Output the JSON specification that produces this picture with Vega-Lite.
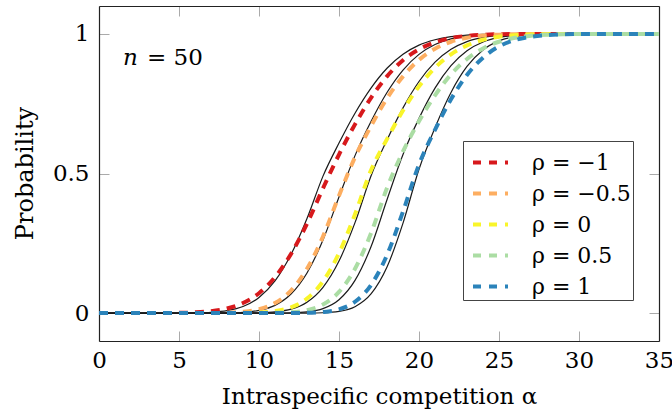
{
  "$schema": "https://vega.github.io/schema/vega-lite/v6.json",
  "width": 560,
  "height": 335,
  "autosize": {"type": "none"},
  "padding": {"left": 99, "top": 6, "right": 13, "bottom": 68},
  "datasets": {
    "dashed": [
      {"alpha": 0, "prob": 0, "rho": "ρ = −1"},
      {"alpha": 4, "prob": 0, "rho": "ρ = −1"},
      {"alpha": 5, "prob": 0.0009, "rho": "ρ = −1"},
      {"alpha": 6, "prob": 0.0026, "rho": "ρ = −1"},
      {"alpha": 7, "prob": 0.0068, "rho": "ρ = −1"},
      {"alpha": 8, "prob": 0.0166, "rho": "ρ = −1"},
      {"alpha": 9, "prob": 0.0359, "rho": "ρ = −1"},
      {"alpha": 10, "prob": 0.0712, "rho": "ρ = −1"},
      {"alpha": 11, "prob": 0.1286, "rho": "ρ = −1"},
      {"alpha": 12, "prob": 0.2119, "rho": "ρ = −1"},
      {"alpha": 13, "prob": 0.3203, "rho": "ρ = −1"},
      {"alpha": 14, "prob": 0.447, "rho": "ρ = −1"},
      {"alpha": 15, "prob": 0.568, "rho": "ρ = −1"},
      {"alpha": 16, "prob": 0.676, "rho": "ρ = −1"},
      {"alpha": 17, "prob": 0.771, "rho": "ρ = −1"},
      {"alpha": 18, "prob": 0.848, "rho": "ρ = −1"},
      {"alpha": 19, "prob": 0.906, "rho": "ρ = −1"},
      {"alpha": 20, "prob": 0.945, "rho": "ρ = −1"},
      {"alpha": 21, "prob": 0.970, "rho": "ρ = −1"},
      {"alpha": 22, "prob": 0.985, "rho": "ρ = −1"},
      {"alpha": 23, "prob": 0.993, "rho": "ρ = −1"},
      {"alpha": 24, "prob": 0.997, "rho": "ρ = −1"},
      {"alpha": 25, "prob": 0.9988, "rho": "ρ = −1"},
      {"alpha": 26, "prob": 0.9995, "rho": "ρ = −1"},
      {"alpha": 27, "prob": 1, "rho": "ρ = −1"},
      {"alpha": 35, "prob": 1, "rho": "ρ = −1"},

      {"alpha": 0, "prob": 0, "rho": "ρ = −0.5"},
      {"alpha": 6, "prob": 0, "rho": "ρ = −0.5"},
      {"alpha": 7, "prob": 0.0003, "rho": "ρ = −0.5"},
      {"alpha": 8, "prob": 0.0013, "rho": "ρ = −0.5"},
      {"alpha": 9, "prob": 0.0047, "rho": "ρ = −0.5"},
      {"alpha": 10, "prob": 0.0139, "rho": "ρ = −0.5"},
      {"alpha": 11, "prob": 0.0359, "rho": "ρ = −0.5"},
      {"alpha": 12, "prob": 0.0808, "rho": "ρ = −0.5"},
      {"alpha": 13, "prob": 0.1587, "rho": "ρ = −0.5"},
      {"alpha": 14, "prob": 0.2743, "rho": "ρ = −0.5"},
      {"alpha": 15, "prob": 0.4207, "rho": "ρ = −0.5"},
      {"alpha": 16, "prob": 0.558, "rho": "ρ = −0.5"},
      {"alpha": 17, "prob": 0.670, "rho": "ρ = −0.5"},
      {"alpha": 18, "prob": 0.769, "rho": "ρ = −0.5"},
      {"alpha": 19, "prob": 0.848, "rho": "ρ = −0.5"},
      {"alpha": 20, "prob": 0.907, "rho": "ρ = −0.5"},
      {"alpha": 21, "prob": 0.947, "rho": "ρ = −0.5"},
      {"alpha": 22, "prob": 0.972, "rho": "ρ = −0.5"},
      {"alpha": 23, "prob": 0.986, "rho": "ρ = −0.5"},
      {"alpha": 24, "prob": 0.994, "rho": "ρ = −0.5"},
      {"alpha": 25, "prob": 0.9974, "rho": "ρ = −0.5"},
      {"alpha": 26, "prob": 0.999, "rho": "ρ = −0.5"},
      {"alpha": 27, "prob": 1, "rho": "ρ = −0.5"},
      {"alpha": 35, "prob": 1, "rho": "ρ = −0.5"},

      {"alpha": 0, "prob": 0, "rho": "ρ = 0"},
      {"alpha": 7, "prob": 0, "rho": "ρ = 0"},
      {"alpha": 8, "prob": 0.0001, "rho": "ρ = 0"},
      {"alpha": 9, "prob": 0.0005, "rho": "ρ = 0"},
      {"alpha": 10, "prob": 0.002, "rho": "ρ = 0"},
      {"alpha": 11, "prob": 0.007, "rho": "ρ = 0"},
      {"alpha": 12, "prob": 0.0206, "rho": "ρ = 0"},
      {"alpha": 13, "prob": 0.0521, "rho": "ρ = 0"},
      {"alpha": 14, "prob": 0.1135, "rho": "ρ = 0"},
      {"alpha": 15, "prob": 0.2142, "rho": "ρ = 0"},
      {"alpha": 16, "prob": 0.3538, "rho": "ρ = 0"},
      {"alpha": 17, "prob": 0.5114, "rho": "ρ = 0"},
      {"alpha": 18, "prob": 0.623, "rho": "ρ = 0"},
      {"alpha": 19, "prob": 0.7257, "rho": "ρ = 0"},
      {"alpha": 20, "prob": 0.812, "rho": "ρ = 0"},
      {"alpha": 21, "prob": 0.879, "rho": "ρ = 0"},
      {"alpha": 22, "prob": 0.927, "rho": "ρ = 0"},
      {"alpha": 23, "prob": 0.959, "rho": "ρ = 0"},
      {"alpha": 24, "prob": 0.979, "rho": "ρ = 0"},
      {"alpha": 25, "prob": 0.990, "rho": "ρ = 0"},
      {"alpha": 26, "prob": 0.9953, "rho": "ρ = 0"},
      {"alpha": 27, "prob": 0.998, "rho": "ρ = 0"},
      {"alpha": 28, "prob": 0.9992, "rho": "ρ = 0"},
      {"alpha": 29, "prob": 1, "rho": "ρ = 0"},
      {"alpha": 35, "prob": 1, "rho": "ρ = 0"},

      {"alpha": 0, "prob": 0, "rho": "ρ = 0.5"},
      {"alpha": 9, "prob": 0, "rho": "ρ = 0.5"},
      {"alpha": 10, "prob": 0.0002, "rho": "ρ = 0.5"},
      {"alpha": 11, "prob": 0.0008, "rho": "ρ = 0.5"},
      {"alpha": 12, "prob": 0.0031, "rho": "ρ = 0.5"},
      {"alpha": 13, "prob": 0.0107, "rho": "ρ = 0.5"},
      {"alpha": 14, "prob": 0.0307, "rho": "ρ = 0.5"},
      {"alpha": 15, "prob": 0.0757, "rho": "ρ = 0.5"},
      {"alpha": 16, "prob": 0.1587, "rho": "ρ = 0.5"},
      {"alpha": 17, "prob": 0.286, "rho": "ρ = 0.5"},
      {"alpha": 18, "prob": 0.448, "rho": "ρ = 0.5"},
      {"alpha": 19, "prob": 0.579, "rho": "ρ = 0.5"},
      {"alpha": 20, "prob": 0.687, "rho": "ρ = 0.5"},
      {"alpha": 21, "prob": 0.780, "rho": "ρ = 0.5"},
      {"alpha": 22, "prob": 0.855, "rho": "ρ = 0.5"},
      {"alpha": 23, "prob": 0.910, "rho": "ρ = 0.5"},
      {"alpha": 24, "prob": 0.948, "rho": "ρ = 0.5"},
      {"alpha": 25, "prob": 0.972, "rho": "ρ = 0.5"},
      {"alpha": 26, "prob": 0.986, "rho": "ρ = 0.5"},
      {"alpha": 27, "prob": 0.9935, "rho": "ρ = 0.5"},
      {"alpha": 28, "prob": 0.997, "rho": "ρ = 0.5"},
      {"alpha": 29, "prob": 0.9989, "rho": "ρ = 0.5"},
      {"alpha": 30, "prob": 1, "rho": "ρ = 0.5"},
      {"alpha": 35, "prob": 1, "rho": "ρ = 0.5"},

      {"alpha": 0, "prob": 0, "rho": "ρ = 1"},
      {"alpha": 11, "prob": 0, "rho": "ρ = 1"},
      {"alpha": 12, "prob": 0.0002, "rho": "ρ = 1"},
      {"alpha": 13, "prob": 0.0008, "rho": "ρ = 1"},
      {"alpha": 14, "prob": 0.0038, "rho": "ρ = 1"},
      {"alpha": 15, "prob": 0.0136, "rho": "ρ = 1"},
      {"alpha": 16, "prob": 0.0406, "rho": "ρ = 1"},
      {"alpha": 17, "prob": 0.1004, "rho": "ρ = 1"},
      {"alpha": 18, "prob": 0.2078, "rho": "ρ = 1"},
      {"alpha": 19, "prob": 0.3636, "rho": "ρ = 1"},
      {"alpha": 20, "prob": 0.532, "rho": "ρ = 1"},
      {"alpha": 21, "prob": 0.6566, "rho": "ρ = 1"},
      {"alpha": 22, "prob": 0.766, "rho": "ρ = 1"},
      {"alpha": 23, "prob": 0.853, "rho": "ρ = 1"},
      {"alpha": 24, "prob": 0.915, "rho": "ρ = 1"},
      {"alpha": 25, "prob": 0.955, "rho": "ρ = 1"},
      {"alpha": 26, "prob": 0.978, "rho": "ρ = 1"},
      {"alpha": 27, "prob": 0.990, "rho": "ρ = 1"},
      {"alpha": 28, "prob": 0.996, "rho": "ρ = 1"},
      {"alpha": 29, "prob": 0.9986, "rho": "ρ = 1"},
      {"alpha": 30, "prob": 1, "rho": "ρ = 1"},
      {"alpha": 35, "prob": 1, "rho": "ρ = 1"}
    ],
    "solid": [
      {"alpha": 0, "prob": 0, "curve": "a"},
      {"alpha": 4, "prob": 0, "curve": "a"},
      {"alpha": 5, "prob": 0.0002, "curve": "a"},
      {"alpha": 6, "prob": 0.0008, "curve": "a"},
      {"alpha": 7, "prob": 0.0028, "curve": "a"},
      {"alpha": 8, "prob": 0.0088, "curve": "a"},
      {"alpha": 9, "prob": 0.0236, "curve": "a"},
      {"alpha": 10, "prob": 0.0557, "curve": "a"},
      {"alpha": 11, "prob": 0.1151, "curve": "a"},
      {"alpha": 12, "prob": 0.2096, "curve": "a"},
      {"alpha": 13, "prob": 0.3387, "curve": "a"},
      {"alpha": 14, "prob": 0.4906, "curve": "a"},
      {"alpha": 15, "prob": 0.609, "curve": "a"},
      {"alpha": 16, "prob": 0.716, "curve": "a"},
      {"alpha": 17, "prob": 0.806, "curve": "a"},
      {"alpha": 18, "prob": 0.877, "curve": "a"},
      {"alpha": 19, "prob": 0.927, "curve": "a"},
      {"alpha": 20, "prob": 0.960, "curve": "a"},
      {"alpha": 21, "prob": 0.979, "curve": "a"},
      {"alpha": 22, "prob": 0.990, "curve": "a"},
      {"alpha": 23, "prob": 0.9957, "curve": "a"},
      {"alpha": 24, "prob": 0.9983, "curve": "a"},
      {"alpha": 25, "prob": 0.9994, "curve": "a"},
      {"alpha": 26, "prob": 1, "curve": "a"},
      {"alpha": 35, "prob": 1, "curve": "a"},

      {"alpha": 0, "prob": 0, "curve": "b"},
      {"alpha": 6, "prob": 0, "curve": "b"},
      {"alpha": 7, "prob": 0.0001, "curve": "b"},
      {"alpha": 8, "prob": 0.0007, "curve": "b"},
      {"alpha": 9, "prob": 0.0028, "curve": "b"},
      {"alpha": 10, "prob": 0.0096, "curve": "b"},
      {"alpha": 11, "prob": 0.0277, "curve": "b"},
      {"alpha": 12, "prob": 0.0682, "curve": "b"},
      {"alpha": 13, "prob": 0.1437, "curve": "b"},
      {"alpha": 14, "prob": 0.2617, "curve": "b"},
      {"alpha": 15, "prob": 0.4157, "curve": "b"},
      {"alpha": 16, "prob": 0.564, "curve": "b"},
      {"alpha": 17, "prob": 0.686, "curve": "b"},
      {"alpha": 18, "prob": 0.790, "curve": "b"},
      {"alpha": 19, "prob": 0.8705, "curve": "b"},
      {"alpha": 20, "prob": 0.9267, "curve": "b"},
      {"alpha": 21, "prob": 0.962, "curve": "b"},
      {"alpha": 22, "prob": 0.982, "curve": "b"},
      {"alpha": 23, "prob": 0.9922, "curve": "b"},
      {"alpha": 24, "prob": 0.997, "curve": "b"},
      {"alpha": 25, "prob": 0.9989, "curve": "b"},
      {"alpha": 26, "prob": 1, "curve": "b"},
      {"alpha": 35, "prob": 1, "curve": "b"},

      {"alpha": 0, "prob": 0, "curve": "c"},
      {"alpha": 8, "prob": 0, "curve": "c"},
      {"alpha": 9, "prob": 0.0002, "curve": "c"},
      {"alpha": 10, "prob": 0.0011, "curve": "c"},
      {"alpha": 11, "prob": 0.0043, "curve": "c"},
      {"alpha": 12, "prob": 0.014, "curve": "c"},
      {"alpha": 13, "prob": 0.0391, "curve": "c"},
      {"alpha": 14, "prob": 0.0924, "curve": "c"},
      {"alpha": 15, "prob": 0.1864, "curve": "c"},
      {"alpha": 16, "prob": 0.3239, "curve": "c"},
      {"alpha": 17, "prob": 0.4913, "curve": "c"},
      {"alpha": 18, "prob": 0.620, "curve": "c"},
      {"alpha": 19, "prob": 0.735, "curve": "c"},
      {"alpha": 20, "prob": 0.8295, "curve": "c"},
      {"alpha": 21, "prob": 0.8987, "curve": "c"},
      {"alpha": 22, "prob": 0.9449, "curve": "c"},
      {"alpha": 23, "prob": 0.9725, "curve": "c"},
      {"alpha": 24, "prob": 0.9875, "curve": "c"},
      {"alpha": 25, "prob": 0.9948, "curve": "c"},
      {"alpha": 26, "prob": 0.998, "curve": "c"},
      {"alpha": 27, "prob": 0.9993, "curve": "c"},
      {"alpha": 28, "prob": 1, "curve": "c"},
      {"alpha": 35, "prob": 1, "curve": "c"},

      {"alpha": 0, "prob": 0, "curve": "d"},
      {"alpha": 10, "prob": 0, "curve": "d"},
      {"alpha": 11, "prob": 0.0002, "curve": "d"},
      {"alpha": 12, "prob": 0.001, "curve": "d"},
      {"alpha": 13, "prob": 0.0044, "curve": "d"},
      {"alpha": 14, "prob": 0.016, "curve": "d"},
      {"alpha": 15, "prob": 0.0478, "curve": "d"},
      {"alpha": 16, "prob": 0.117, "curve": "d"},
      {"alpha": 17, "prob": 0.2376, "curve": "d"},
      {"alpha": 18, "prob": 0.406, "curve": "d"},
      {"alpha": 19, "prob": 0.568, "curve": "d"},
      {"alpha": 20, "prob": 0.6975, "curve": "d"},
      {"alpha": 21, "prob": 0.8057, "curve": "d"},
      {"alpha": 22, "prob": 0.8863, "curve": "d"},
      {"alpha": 23, "prob": 0.9397, "curve": "d"},
      {"alpha": 24, "prob": 0.9711, "curve": "d"},
      {"alpha": 25, "prob": 0.9875, "curve": "d"},
      {"alpha": 26, "prob": 0.9951, "curve": "d"},
      {"alpha": 27, "prob": 0.9983, "curve": "d"},
      {"alpha": 28, "prob": 0.9995, "curve": "d"},
      {"alpha": 29, "prob": 1, "curve": "d"},
      {"alpha": 35, "prob": 1, "curve": "d"},

      {"alpha": 0, "prob": 0, "curve": "e"},
      {"alpha": 12, "prob": 0, "curve": "e"},
      {"alpha": 13, "prob": 0.0002, "curve": "e"},
      {"alpha": 14, "prob": 0.0012, "curve": "e"},
      {"alpha": 15, "prob": 0.006, "curve": "e"},
      {"alpha": 16, "prob": 0.0228, "curve": "e"},
      {"alpha": 17, "prob": 0.0685, "curve": "e"},
      {"alpha": 18, "prob": 0.165, "curve": "e"},
      {"alpha": 19, "prob": 0.3222, "curve": "e"},
      {"alpha": 20, "prob": 0.5153, "curve": "e"},
      {"alpha": 21, "prob": 0.664, "curve": "e"},
      {"alpha": 22, "prob": 0.7904, "curve": "e"},
      {"alpha": 23, "prob": 0.8834, "curve": "e"},
      {"alpha": 24, "prob": 0.9426, "curve": "e"},
      {"alpha": 25, "prob": 0.975, "curve": "e"},
      {"alpha": 26, "prob": 0.9905, "curve": "e"},
      {"alpha": 27, "prob": 0.9968, "curve": "e"},
      {"alpha": 28, "prob": 0.9991, "curve": "e"},
      {"alpha": 29, "prob": 1, "curve": "e"},
      {"alpha": 35, "prob": 1, "curve": "e"}
    ]
  },
  "layer": [
    {
      "data": {"name": "solid"},
      "mark": {"type": "line", "interpolate": "monotone", "color": "#1a1a1a", "strokeWidth": 1.2},
      "encoding": {
        "x": {
          "field": "alpha", "type": "quantitative",
          "scale": {"domain": [0, 35], "nice": false, "zero": false},
          "axis": {
            "orient": "bottom",
            "values": [0, 5, 10, 15, 20, 25, 30, 35],
            "grid": false,
            "tickSize": -10, "tickColor": "#aaaaaa", "tickWidth": 1,
            "domainColor": "#222222", "domainWidth": 1.2,
            "labelFlush": false, "labelOverlap": false,
            "title": "Intraspecific competition α",
            "titleFont": "DejaVu Serif",
            "titleFontSize": 23,
            "titleFontWeight": "normal",
            "titleColor": "black",
            "labelFont": "DejaVu Serif",
            "labelFontSize": 23,
            "labelColor": "black",
            "labelPadding": 18,
            "titleX": 280,
            "titleY": 62,
            "titleAlign": "center",
            "titleBaseline": "alphabetic"
          }
        },
        "y": {
          "field": "prob", "type": "quantitative",
          "scale": {"domain": [-0.1, 1.1], "nice": false, "zero": false},
          "axis": {
            "orient": "left",
            "values": [0, 0.5, 1],
            "format": "~g",
            "grid": false,
            "tickSize": -10, "tickColor": "#aaaaaa", "tickWidth": 1,
            "domainColor": "#222222", "domainWidth": 1.2,
            "labelFlush": false, "labelOverlap": false,
            "title": "Probability",
            "titleFont": "DejaVu Serif",
            "titleFontSize": 24,
            "titleFontWeight": "normal",
            "titleColor": "black",
            "labelFont": "DejaVu Serif",
            "labelFontSize": 23,
            "labelColor": "black",
            "labelPadding": 20,
            "titleX": -74,
            "titleY": 167,
            "titleAngle": 270,
            "titleAlign": "center",
            "titleBaseline": "middle"
          }
        },
        "detail": {"field": "curve", "type": "nominal"}
      }
    },
    {
      "data": {"name": "dashed"},
      "mark": {"type": "line", "interpolate": "monotone", "strokeWidth": 4, "strokeDash": [9, 7]},
      "encoding": {
        "x": {"field": "alpha", "type": "quantitative", "scale": {"domain": [0, 35], "nice": false, "zero": false}, "axis": null},
        "y": {"field": "prob", "type": "quantitative", "scale": {"domain": [-0.1, 1.1], "nice": false, "zero": false}, "axis": null},
        "color": {
          "field": "rho", "type": "nominal",
          "scale": {
            "domain": ["ρ = −1", "ρ = −0.5", "ρ = 0", "ρ = 0.5", "ρ = 1"],
            "range": ["#d7191c", "#fdae61", "#f9f52a", "#abdda4", "#2b83ba"]
          },
          "legend": {
            "orient": "none",
            "legendX": 364,
            "legendY": 135,
            "title": null,
            "symbolType": "stroke",
            "symbolSize": 1225,
            "symbolStrokeWidth": 4,
            "symbolDash": [8, 8],
            "symbolOffset": 6,
            "labelFont": "DejaVu Serif",
            "labelFontSize": 22,
            "labelColor": "black",
            "labelOffset": 22,
            "labelLimit": 300,
            "strokeColor": "#444444",
            "fillColor": "white",
            "padding": 2,
            "rowPadding": 0
          }
        }
      }
    },
    {
      "data": {"values": [{}]},
      "mark": {"type": "text", "text": "n", "font": "DejaVu Serif", "fontStyle": "italic", "fontSize": 23, "align": "left", "baseline": "alphabetic", "color": "black"},
      "encoding": {
        "x": {"datum": 1.5, "type": "quantitative", "scale": {"domain": [0, 35], "nice": false, "zero": false}, "axis": null},
        "y": {"datum": 0.889, "type": "quantitative", "scale": {"domain": [-0.1, 1.1], "nice": false, "zero": false}, "axis": null}
      }
    },
    {
      "data": {"values": [{}]},
      "mark": {"type": "text", "text": "= 50", "font": "DejaVu Serif", "fontSize": 23, "align": "left", "baseline": "alphabetic", "color": "black"},
      "encoding": {
        "x": {"datum": 3.0, "type": "quantitative", "scale": {"domain": [0, 35], "nice": false, "zero": false}, "axis": null},
        "y": {"datum": 0.889, "type": "quantitative", "scale": {"domain": [-0.1, 1.1], "nice": false, "zero": false}, "axis": null}
      }
    },
    {
      "data": {"name": "solid"},
      "mark": {"type": "line", "opacity": 0},
      "encoding": {
        "x": {
          "field": "alpha", "type": "quantitative",
          "scale": {"domain": [0, 35], "nice": false, "zero": false},
          "axis": {"orient": "top", "values": [0, 5, 10, 15, 20, 25, 30, 35], "labels": false, "title": null, "grid": false, "tickSize": -10, "tickColor": "#aaaaaa", "tickWidth": 1, "domainColor": "#222222", "domainWidth": 1.2}
        },
        "y": {
          "field": "prob", "type": "quantitative",
          "scale": {"domain": [-0.1, 1.1], "nice": false, "zero": false},
          "axis": {"orient": "right", "values": [0, 0.5, 1], "labels": false, "title": null, "grid": false, "tickSize": -10, "tickColor": "#aaaaaa", "tickWidth": 1, "domainColor": "#222222", "domainWidth": 1.2}
        },
        "detail": {"field": "curve", "type": "nominal"}
      }
    }
  ],
  "resolve": {"axis": {"x": "independent", "y": "independent"}}
}
